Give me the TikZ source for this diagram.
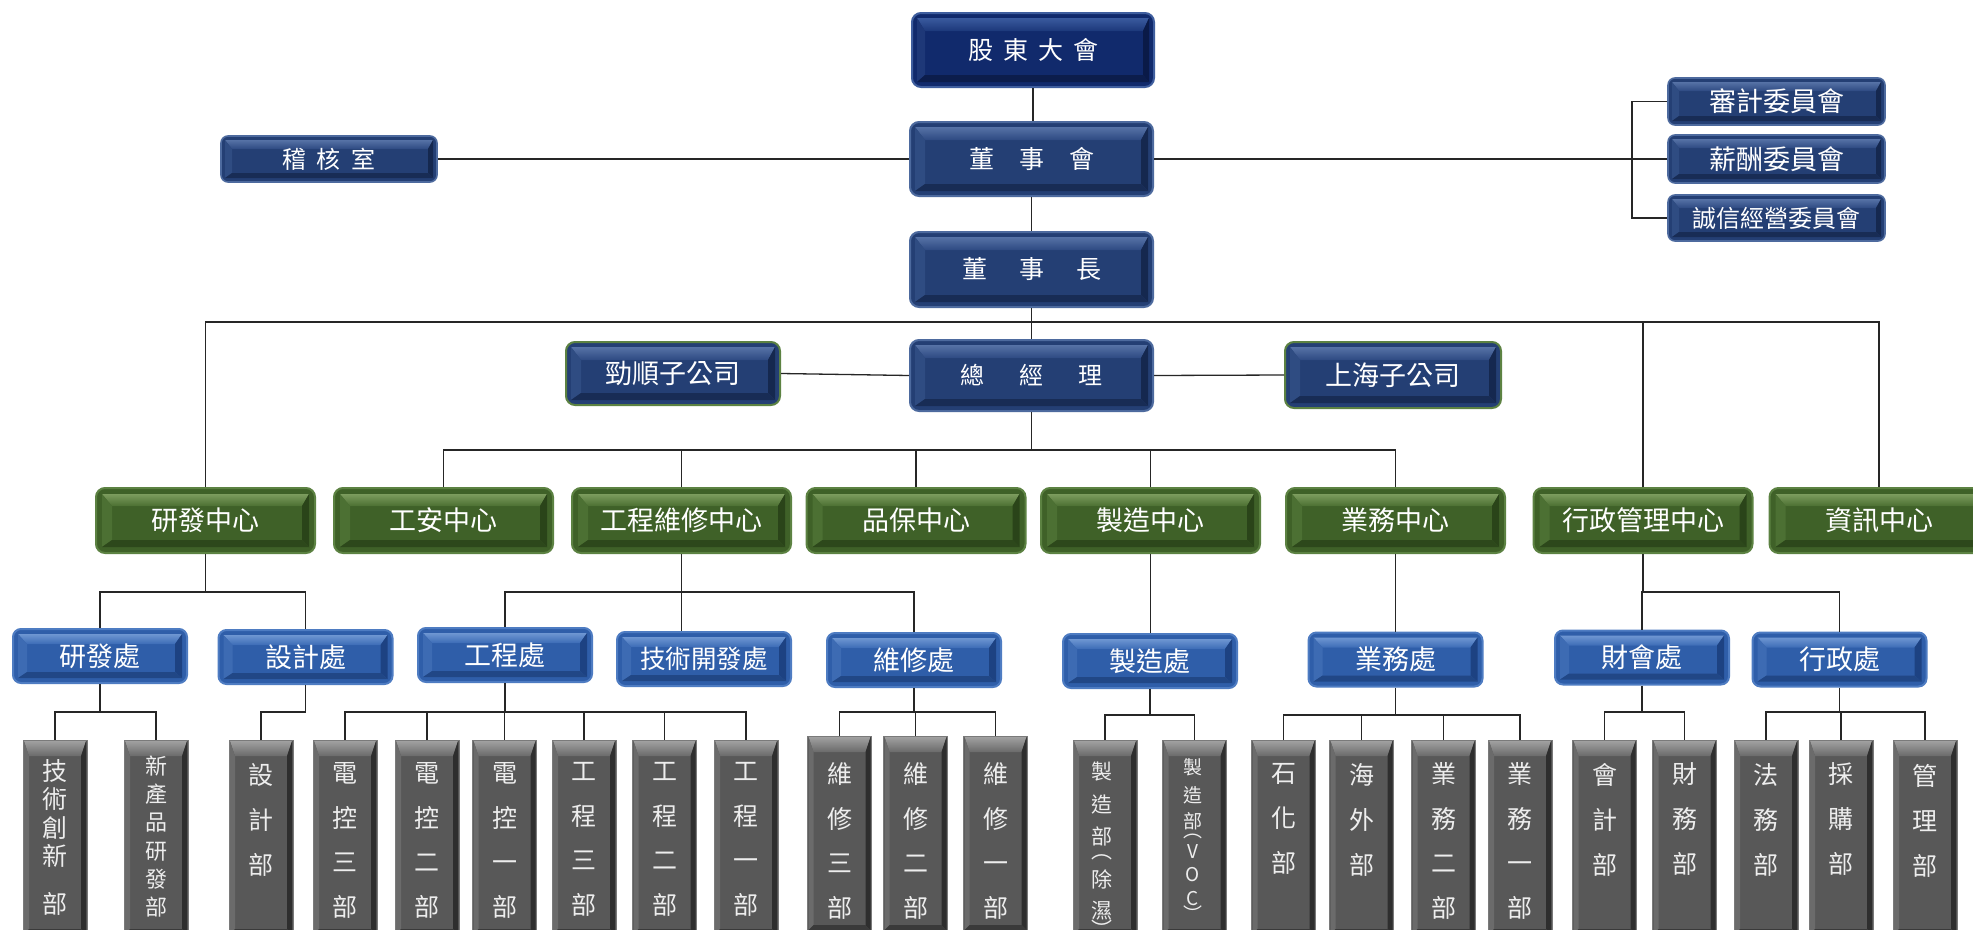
\documentclass[tikz,border=0pt]{standalone}
\usepackage{fontspec}
\newfontfamily\cjk{Noto Sans CJK TC}
\usetikzlibrary{calc}
\definecolor{nvF}{HTML}{112A6C}\definecolor{nvRim}{HTML}{3F5E9E}\definecolor{nvTa}{HTML}{3A5A9E}
\definecolor{nvTb}{HTML}{1C387A}\definecolor{nvL}{HTML}{1E3878}\definecolor{nvR}{HTML}{0A1A48}\definecolor{nvB}{HTML}{0C1D4C}
\definecolor{dbF}{HTML}{243F74}\definecolor{dbRim}{HTML}{4D6A9E}\definecolor{dbTa}{HTML}{5672A6}
\definecolor{dbTb}{HTML}{2E4A82}\definecolor{dbL}{HTML}{2F4C82}\definecolor{dbR}{HTML}{15284F}\definecolor{dbB}{HTML}{182C55}
\definecolor{gnF}{HTML}{3F6128}\definecolor{gnRim}{HTML}{5C8242}\definecolor{gnTa}{HTML}{7C9C5E}
\definecolor{gnTb}{HTML}{4C7032}\definecolor{gnL}{HTML}{4C7033}\definecolor{gnR}{HTML}{2A4419}\definecolor{gnB}{HTML}{2D481B}
\definecolor{buF}{HTML}{2F5EA9}\definecolor{buRim}{HTML}{4E7CC2}\definecolor{buTa}{HTML}{6E96D2}
\definecolor{buTb}{HTML}{3C6CB6}\definecolor{buL}{HTML}{3D6BB3}\definecolor{buR}{HTML}{1D4282}\definecolor{buB}{HTML}{214786}
\definecolor{gyF}{HTML}{585858}\definecolor{gyRim}{HTML}{7A7A7A}\definecolor{gyTa}{HTML}{A0A0A0}
\definecolor{gyTb}{HTML}{6A6A6A}\definecolor{gyL}{HTML}{6B6B6B}\definecolor{gyR}{HTML}{2E2E2E}\definecolor{gyB}{HTML}{3A3A3A}
\definecolor{gyT}{HTML}{EDEDED}
\definecolor{ln}{HTML}{262626}
\newcommand\bevelpic{%
 \coordinate (ppA) at (path picture bounding box.north west);
 \coordinate (ppB) at (path picture bounding box.north east);
 \coordinate (ppC) at (path picture bounding box.south east);
 \coordinate (ppD) at (path picture bounding box.south west);
 \coordinate (oA) at ([shift={(\bvo,-\bvo)}]ppA);
 \coordinate (oB) at ([shift={(-\bvo,-\bvo)}]ppB);
 \coordinate (oC) at ([shift={(-\bvo,\bvo)}]ppC);
 \coordinate (oD) at ([shift={(\bvo,\bvo)}]ppD);
 \coordinate (iA) at ([shift={(\bvl,-\bvt)}]ppA);
 \coordinate (iB) at ([shift={(-\bvr,-\bvt)}]ppB);
 \coordinate (iC) at ([shift={(-\bvr,\bvb)}]ppC);
 \coordinate (iD) at ([shift={(\bvl,\bvb)}]ppD);
 \shade[sharp corners, top color=bvTa, bottom color=bvTb] (oA) -- (oB) -- (iB) -- (iA) -- cycle;
 \fill[sharp corners, bvL] (oA) -- (iA) -- (iD) -- (oD) -- cycle;
 \fill[sharp corners, bvR] (oB) -- (iB) -- (iC) -- (oC) -- cycle;
 \fill[sharp corners, bvB] (oD) -- (iD) -- (iC) -- (oC) -- cycle;
}
\tikzset{
 bvgeom/.code n args={5}{\def\bvo{#1}\def\bvt{#2}\def\bvl{#3}\def\bvr{#4}\def\bvb{#5}},
 bvcol/.code={\colorlet{bvTa}{#1Ta}\colorlet{bvTb}{#1Tb}\colorlet{bvL}{#1L}\colorlet{bvR}{#1R}\colorlet{bvB}{#1B}},
 base/.style={rectangle, inner sep=0pt, text=white, path picture={\bevelpic}},
 navyb/.style={base, rounded corners=9pt, fill=nvF, draw=nvRim, line width=2pt, bvcol=nv, bvgeom={5pt}{18pt}{13pt}{11pt}{12pt}},
 dbl/.style={base, rounded corners=9pt, fill=dbF, draw=dbRim, line width=2pt, bvcol=db, bvgeom={5pt}{18pt}{15pt}{12pt}{12pt}},
 dbs/.style={base, rounded corners=7pt, fill=dbF, draw=dbRim, line width=1.6pt, bvcol=db, bvgeom={4pt}{13pt}{11pt}{9pt}{9pt}},
 gnb/.style={base, rounded corners=9pt, fill=gnF, draw=gnRim, line width=2pt, bvcol=gn, bvgeom={6pt}{18pt}{16pt}{13pt}{13pt}, minimum width=219pt, minimum height=65pt, fs=27},
 bub/.style={base, rounded corners=8pt, fill=buF, draw=buRim, line width=2pt, bvcol=bu, bvgeom={5pt}{15pt}{14pt}{12pt}{11pt}, minimum width=174pt, minimum height=54pt, fs=27},
 gyb/.style={base, fill=gyF, draw=gyRim, line width=0.8pt, bvcol=gy, bvgeom={1pt}{16pt}{6pt}{6pt}{6pt}, minimum width=64pt, minimum height=195pt},
 gyt/.style={anchor=north, align=center, inner sep=0pt, text=gyT},
 gyc/.style={anchor=center, inner sep=0pt, text=gyT, font=\cjk\fontsize{#1}{#1}\selectfont},
 sz/.style 2 args={minimum width=#1pt, minimum height=#2pt},
 fs/.style={font=\cjk\fontsize{#1}{#1}\selectfont},
 vt/.style 2 args={font=\cjk\fontsize{#1}{#2}\selectfont},
 conn/.style={draw=ln, line width=1.3pt},
}
\begin{document}
\begin{tikzpicture}[x=1pt,y=-1pt]
\useasboundingbox (0,0) rectangle (1973,929);
\fill[white] (0,0) rectangle (1973,929);
% top levels
\node[navyb, sz={242}{74}, fs=25] (gd) at (1033,50) {股\hspace{10pt}東\hspace{10pt}大\hspace{10pt}會};
\node[dbl, sz={243}{74}, fs=25] (dsh) at (1031.5,159) {董\hspace{25pt}事\hspace{25pt}會};
\node[dbl, sz={243}{75}, fs=25] (dsz) at (1031.5,269.5) {董\hspace{32pt}事\hspace{32pt}長};
\node[dbs, sz={216}{46}, fs=24] (jh) at (329,159) {稽\hspace{11pt}核\hspace{11pt}室};
\node[dbs, sz={217}{47}, fs=27] (sj) at (1776.5,101.5) {審計委員會};
\node[dbs, sz={217}{48}, fs=27] (xc) at (1776.5,159) {薪酬委員會};
\node[dbs, sz={217}{46}, fs=24] (cx) at (1776.5,218) {誠信經營委員會};
\node[dbl, sz={243}{71}, fs=24] (zjl) at (1031.5,375.5) {總\hspace{35pt}經\hspace{35pt}理};
\node[dbl, draw=gnRim, sz={214}{63}, fs=27] (js) at (673,373.5) {勁順子公司};
\node[dbl, draw=gnRim, sz={216}{66}, fs=27] (sh) at (1393,375) {上海子公司};
% centers
\node[gnb] (yf) at (205.5,520.5) {研發中心};
\node[gnb] (ga) at (443.5,520.5) {工安中心};
\node[gnb] (gw) at (681.5,520.5) {工程維修中心};
\node[gnb] (pb) at (916,520.5) {品保中心};
\node[gnb] (zz) at (1150.5,520.5) {製造中心};
\node[gnb] (yw) at (1395.5,520.5) {業務中心};
\node[gnb] (xz) at (1643,520.5) {行政管理中心};
\node[gnb] (zx) at (1879,520.5) {資訊中心};
% divisions
\node[bub] (yfc) at (100,656) {研發處};
\node[bub] (sjc) at (305.5,657) {設計處};
\node[bub] (gcc) at (505,655) {工程處};
\node[bub, fs=25.5] (jkc) at (704,659) {技術開發處};
\node[bub] (wxc) at (914,660) {維修處};
\node[bub] (zzc) at (1150,661) {製造處};
\node[bub] (ywc) at (1395.5,659.5) {業務處};
\node[bub] (chc) at (1642,657.5) {財會處};
\node[bub] (xzc) at (1839.5,659.5) {行政處};
% departments
\node[gyb] (b1) at (55,837.5) {};
\node[gyt, vt={25}{28.5}] (b1t) at ([yshift=-19.5pt]b1.north) {技\\術\\創\\新\\[19pt]部};
\node[gyb] (b2) at (156,837.5) {};
\node[gyt, vt={22}{28.2}] (b2t) at ([yshift=-16pt]b2.north) {新\\產\\品\\研\\發\\部};
\node[gyb] (b3) at (261,837.5) {};
\node[gyt, vt={25}{45}] (b3t) at ([yshift=-24pt]b3.north) {設\\計\\部};
\node[gyb] (b4) at (345,837.5) {};
\node[gyt, vt={25}{44.5}] (b4t) at ([yshift=-23pt]b4.north) {電\\控\\三\\部};
\node[gyb] (b5) at (427,837.5) {};
\node[gyt, vt={25}{44.5}] (b5t) at ([yshift=-23pt]b5.north) {電\\控\\二\\部};
\node[gyb] (b6) at (504.5,837.5) {};
\node[gyt, vt={25}{44.5}] (b6t) at ([yshift=-23pt]b6.north) {電\\控\\一\\部};
\node[gyb] (b7) at (584,837.5) {};
\node[gyt, vt={25}{44.5}] (b7t) at ([yshift=-23pt]b7.north) {工\\程\\三\\部};
\node[gyb] (b8) at (664.5,837.5) {};
\node[gyt, vt={25}{44.5}] (b8t) at ([yshift=-23pt]b8.north) {工\\程\\二\\部};
\node[gyb] (b9) at (746,837.5) {};
\node[gyt, vt={25}{44.5}] (b9t) at ([yshift=-23pt]b9.north) {工\\程\\一\\部};
\node[gyb] (b10) at (839.5,833.5) {};
\node[gyt, vt={25}{44.5}] (b10t) at ([yshift=-27pt]b10.north) {維\\修\\三\\部};
\node[gyb] (b11) at (915.5,833.5) {};
\node[gyt, vt={25}{44.5}] (b11t) at ([yshift=-27pt]b11.north) {維\\修\\二\\部};
\node[gyb] (b12) at (995.5,833.5) {};
\node[gyt, vt={25}{44.5}] (b12t) at ([yshift=-27pt]b12.north) {維\\修\\一\\部};
\node[gyb] (b13) at (1105,837.5) {};
\node[gyc=21] (b13a) at (1102,772) {製};
\node[gyc=21] (b13b) at (1102,805) {造};
\node[gyc=21] (b13c) at (1102,836) {部};
\node[gyc=21] (b13d) at (1102,857) {︵};
\node[gyc=21] (b13e) at (1102,879) {除};
\node[gyc=21] (b13f) at (1102,911) {濕};
\node[gyc=21] (b13g) at (1102,929) {︶};
\node[gyb] (b14) at (1194.5,837.5) {};
\node[gyc=19] (b14a) at (1193,767) {製};
\node[gyc=19] (b14b) at (1193,795) {造};
\node[gyc=19] (b14c) at (1193,821) {部};
\node[gyc=19] (b14d) at (1193,836) {︵};
\node[gyc=19] (b14e) at (1193,852) {V};
\node[gyc=19] (b14f) at (1193,875) {O};
\node[gyc=19] (b14g) at (1193,899) {C};
\node[gyc=19] (b14h) at (1193,914) {︶};
\node[gyb] (b15) at (1283.5,837.5) {};
\node[gyt, vt={25}{45}] (b15t) at ([yshift=-24pt]b15.north) {石\\化\\部};
\node[gyb] (b16) at (1361.5,837.5) {};
\node[gyt, vt={25}{45}] (b16t) at ([yshift=-24pt]b16.north) {海\\外\\部};
\node[gyb] (b17) at (1443.5,837.5) {};
\node[gyt, vt={25}{44.5}] (b17t) at ([yshift=-23pt]b17.north) {業\\務\\二\\部};
\node[gyb] (b18) at (1520,837.5) {};
\node[gyt, vt={25}{44.5}] (b18t) at ([yshift=-23pt]b18.north) {業\\務\\一\\部};
\node[gyb] (b19) at (1604.5,837.5) {};
\node[gyt, vt={25}{45}] (b19t) at ([yshift=-24pt]b19.north) {會\\計\\部};
\node[gyb] (b20) at (1684.5,837.5) {};
\node[gyt, vt={25}{45}] (b20t) at ([yshift=-23pt]b20.north) {財\\務\\部};
\node[gyb] (b21) at (1766,837.5) {};
\node[gyt, vt={25}{45}] (b21t) at ([yshift=-24pt]b21.north) {法\\務\\部};
\node[gyb] (b22) at (1841,837.5) {};
\node[gyt, vt={25}{45}] (b22t) at ([yshift=-23pt]b22.north) {採\\購\\部};
\node[gyb] (b23) at (1925,837.5) {};
\node[gyt, vt={25}{45}] (b23t) at ([yshift=-24pt]b23.north) {管\\理\\部};
% bus coordinates
\coordinate (bk) at (1632,159);
\coordinate (bus1) at (0,322);
\coordinate (bus2) at (0,450);
\coordinate (yb) at (0,592);
\coordinate (r1) at (0,712);
\coordinate (r2) at (0,715);
% connectors
\draw[conn] (gd.south) -- (gd.south |- dsh.north);
\draw[conn] (jh.east) -- (dsh.west);
\draw[conn] (dsh.east) -- (xc.west);
\draw[conn] (sj.west) -| (bk) |- (cx.west);
\draw[conn] (dsh.south) -- (dsh.south |- dsz.north);
\draw[conn] (dsz.south) -- (dsz.south |- zjl.north);
\draw[conn] (yf.north) -- (yf.north |- bus1) -- (zx.north |- bus1) -- (zx.north);
\draw[conn] (xz.north) -- (xz.north |- bus1);
\draw[conn] (js.east) -- (zjl.west);
\draw[conn] (zjl.east) -- (sh.west);
\draw[conn] (zjl.south) -- (zjl.south |- bus2);
\draw[conn] (ga.north) -- (ga.north |- bus2) -- (yw.north |- bus2) -- (yw.north);
\draw[conn] (gw.north) -- (gw.north |- bus2);
\draw[conn] (pb.north) -- (pb.north |- bus2);
\draw[conn] (zz.north) -- (zz.north |- bus2);
\draw[conn] (yf.south) -- (yf.south |- yb);
\draw[conn] (yfc.north) |- (sjc.north |- yb) -- (sjc.north);
\draw[conn] (gw.south) -- (gw.south |- jkc.north);
\draw[conn] (gcc.north) |- (wxc.north |- yb) -- (wxc.north);
\draw[conn] (zz.south) -- (zz.south |- zzc.north);
\draw[conn] (yw.south) -- (yw.south |- ywc.north);
\draw[conn] (xz.south) -- (xz.south |- yb);
\draw[conn] (chc.north) |- (xzc.north |- yb) -- (xzc.north);
% level 4 to 5
\draw[conn] (yfc.south) -- (yfc.south |- r1);
\draw[conn] (b1.north) |- (b2.north |- r1) -- (b2.north);
\draw[conn] (sjc.south) |- (b3.north |- r1) -- (b3.north);
\draw[conn] (gcc.south) -- (gcc.south |- r1);
\draw[conn] (b4.north) |- (b9.north |- r1) -- (b9.north);
\draw[conn] (b5.north) -- (b5.north |- r1);
\draw[conn] (b6.north) -- (b6.north |- r1);
\draw[conn] (b7.north) -- (b7.north |- r1);
\draw[conn] (b8.north) -- (b8.north |- r1);
\draw[conn] (wxc.south) -- (wxc.south |- r1);
\draw[conn] (b10.north) |- (b12.north |- r1) -- (b12.north);
\draw[conn] (b11.north) -- (b11.north |- r1);
\draw[conn] (zzc.south) -- (zzc.south |- r2);
\draw[conn] (b13.north) |- (b14.north |- r2) -- (b14.north);
\draw[conn] (ywc.south) -- (ywc.south |- r2);
\draw[conn] (b15.north) |- (b18.north |- r2) -- (b18.north);
\draw[conn] (b16.north) -- (b16.north |- r2);
\draw[conn] (b17.north) -- (b17.north |- r2);
\draw[conn] (chc.south) -- (chc.south |- r1);
\draw[conn] (b19.north) |- (b20.north |- r1) -- (b20.north);
\draw[conn] (xzc.south) -- (xzc.south |- r1);
\draw[conn] (b21.north) |- (b23.north |- r1) -- (b23.north);
\draw[conn] (b22.north) -- (b22.north |- r1);
\end{tikzpicture}
\end{document}
